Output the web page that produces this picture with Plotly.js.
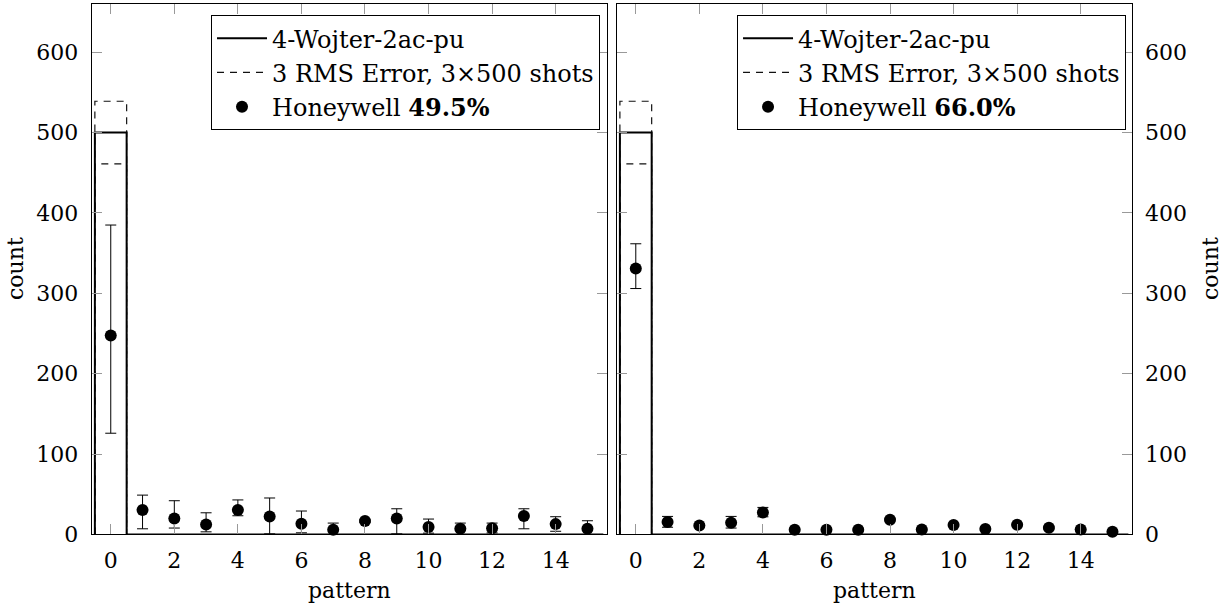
<!DOCTYPE html>
<html>
<head>
<meta charset="utf-8">
<script src="https://cdn.plot.ly/plotly-3.0.1.min.js"></script>
<style>html,body{margin:0;padding:0;background:#fff;}#chart{width:1229px;height:606px;}</style>
</head>
<body>
<div id="chart"></div>
<script>
// ---- data ----
const patterns = [0,1,2,3,4,5,6,7,8,9,10,11,12,13,14,15];
const ideal    = [500,0,0,0,0,0,0,0,0,0,0,0,0,0,0,0];
const rmsUpper = [539,0,0,0,0,0,0,0,0,0,0,0,0,0,0,0];
const rmsLower = [461,0,0,0,0,0,0,0,0,0,0,0,0,0,0,0];

const leftLabel  = 'Honeywell <b>49.5%</b>';
const leftCount  = [247.5,30.4,20,12.5,30.4,22.5,13.3,5.8,16.7,20,9.2,7.1,7.9,22.9,12.9,7.1];
const leftHigh   = [385,49,42,27,43,45.4,29.2,14.2,18.5,32,19.2,14.2,14.2,32,22.1,17.1];
const leftLow    = [126,7.1,8,3.3,23.3,0.8,2.1,0,15,0.8,1.7,0,2,7.1,4,0];

const rightLabel = 'Honeywell <b>66.0%</b>';
const rightCount = [331,15.4,11.3,14.6,27.5,5.8,5.8,5.8,18.3,6.2,11.7,6.7,12.1,8.3,6.2,3.3];
const rightHigh  = [361.7,22.5,13,22.5,33.7,7,7,7,20,7,13,8,13,10,7,4];
const rightLow   = [306,9,10,8,22,4.5,4.5,4.5,17,5,10,5.5,11,7,5,2.5];

const idealName = '4-Wojter-2ac-pu';
const rmsName   = '3 RMS Error, 3×500 shots';
const xTitle = 'pattern';
const yTitle = 'count';

// ---- build ----
const FONT = 'DejaVu Serif';
const FS = 22;
const LFS = 24;
const edgesX = [patterns[0]-0.5].concat(patterns.map(p => p+0.5));
function stepY(arr){ return [0].concat(arr); }

function panelTraces(xa, ya, lg, count, high, low, label){
  const common = {xaxis: xa, yaxis: ya, legend: lg, cliponaxis: false, hoverinfo:'skip'};
  return [
    Object.assign({type:'scatter', mode:'lines', x: edgesX, y: stepY(rmsUpper), name: rmsName,
      line:{color:'#111', width:1.2, shape:'vh', dash:'7px,6px'}, legendgroup:'b'+lg, legendrank:2}, common),
    Object.assign({type:'scatter', mode:'lines', x: edgesX, y: stepY(rmsLower), name: rmsName, showlegend:false,
      line:{color:'#111', width:1.2, shape:'vh', dash:'7px,6px'}, legendgroup:'b'+lg}, common),
    Object.assign({type:'scatter', mode:'lines', x: edgesX, y: stepY(ideal), name: idealName,
      line:{color:'black', width:2, shape:'vh'}, legendgroup:'a'+lg, legendrank:1}, common),
    Object.assign({type:'scatter', mode:'markers', x: patterns, y: count, name: label,
      marker:{color:'black', size:12},
      error_y:{type:'data', symmetric:false,
        array: high.map((h,i)=>h-count[i]), arrayminus: count.map((c,i)=>c-low[i]),
        color:'black', thickness:1, width:5.5},
      legendgroup:'c'+lg, legendrank:3}, common)
  ];
}

const data = [].concat(
  panelTraces('x','y','legend', leftCount, leftHigh, leftLow, leftLabel),
  panelTraces('x2','y2','legend2', rightCount, rightHigh, rightLow, rightLabel)
);

function xAxis(domain, anchor){
  return {domain: domain, anchor: anchor, range:[-0.6,15.6], tick0:0, dtick:2,
    ticks:'inside', ticklen:10, tickcolor:'#999', tickwidth:1, mirror:'allticks',
    showline:true, linecolor:'black', linewidth:1, showgrid:false, zeroline:false,
    tickfont:{family:FONT, size:FS, color:'black'}, ticklabelstandoff:6};
}
function yAxis(domain, anchor, side){
  return {domain: domain, anchor: anchor, side: side, range:[0,660], tick0:0, dtick:100,
    ticks:'inside', ticklen:10, tickcolor:'#999', tickwidth:1, mirror:'allticks',
    showline:true, linecolor:'black', linewidth:1, showgrid:false, zeroline:false,
    tickfont:{family:FONT, size:FS, color:'black'}, ticklabelstandoff:8};
}
const yDom = [0.118, 0.9934];
const legendBase = {xanchor:'left', yanchor:'top', y:0.975, bgcolor:'white', bordercolor:'black', borderwidth:1,
  font:{family:FONT, size:LFS, color:'black'}, itemwidth:50, tracegroupgap:0, traceorder:'grouped'};

const titleFont = {family:FONT, size:FS, color:'black'};
const W = 1229, H = 606;
const annotations = [
  {text:xTitle, xref:'paper', yref:'paper', x:349/W, y:1-590/H, xanchor:'center', yanchor:'middle', showarrow:false, font:titleFont},
  {text:xTitle, xref:'paper', yref:'paper', x:874/W, y:1-590/H, xanchor:'center', yanchor:'middle', showarrow:false, font:titleFont},
  {text:yTitle, xref:'paper', yref:'paper', x:15/W, y:1-269/H, xanchor:'center', yanchor:'middle', textangle:-90, showarrow:false, font:titleFont},
  {text:yTitle, xref:'paper', yref:'paper', x:1210/W, y:1-269/H, xanchor:'center', yanchor:'middle', textangle:-90, showarrow:false, font:titleFont}
];

const layout = {
  width:W, height:H, margin:{l:0,r:0,t:0,b:0},
  paper_bgcolor:'white', plot_bgcolor:'white', showlegend:true,
  font:{family:FONT, size:FS, color:'black'},
  xaxis: xAxis([0.0746,0.4935],'y'),
  yaxis: yAxis(yDom,'x','left'),
  xaxis2: xAxis([0.5018,0.9207],'y2'),
  yaxis2: yAxis(yDom,'x2','right'),
  legend: Object.assign({x:0.1717}, legendBase),
  legend2: Object.assign({x:0.5997}, legendBase),
  annotations: annotations
};

Plotly.newPlot('chart', data, layout, {staticPlot:true, displayModeBar:false});
</script>
</body>
</html>
